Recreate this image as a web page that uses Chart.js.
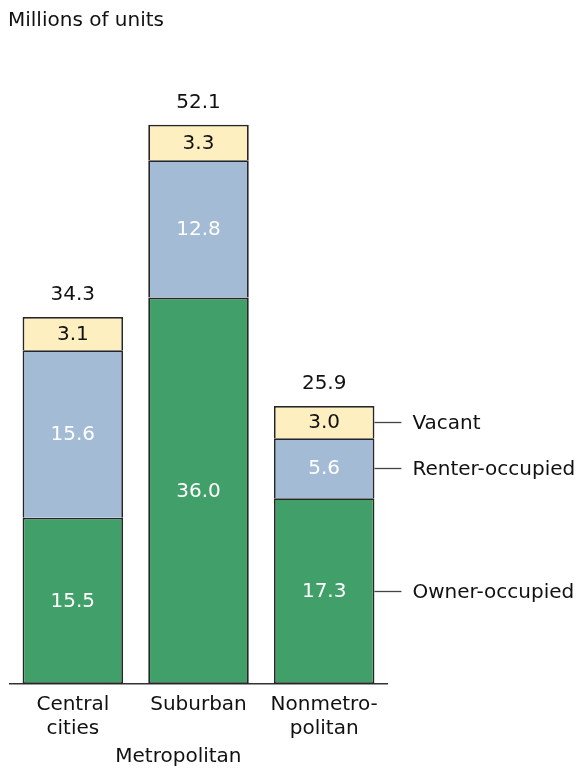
<!DOCTYPE html>
<html>
<head>
<meta charset="utf-8">
<script src="https://cdn.jsdelivr.net/npm/chart.js@4/dist/chart.umd.min.js"></script>
<style>
html,body{margin:0;padding:0;background:#fff;}
#wrap{width:582px;height:770px;position:relative;}
</style>
</head>
<body>
<div id="wrap"><canvas id="c" width="582" height="770"></canvas></div>
<script>
const categories = [["Central","cities"],["Suburban"],["Nonmetro-","politan"]];
const seriesNames = ["Owner-occupied","Renter-occupied","Vacant"];
const owner = [15.5, 36.0, 17.3];
const renter = [15.6, 12.8, 5.6];
const vacant = [3.1, 3.3, 3.0];
const totals = [34.3, 52.1, 25.9];
const unitLabel = "Millions of units";
const groupLabel = "Metropolitan";

const FONT = "'DejaVu Sans', sans-serif";
const FSIZE = 20;
const colors = ["#41a06a", "#a3bbd5", "#feefc1"];
const labelColors = ["#ffffff", "#ffffff", "#111111"];

const labelPlugin = {
  id: 'labels',
  afterDatasetsDraw(chart) {
    const ctx = chart.ctx;
    const xs = chart.scales.x;
    ctx.save();
    ctx.font = FSIZE + "px " + FONT;
    ctx.textAlign = "center";
    ctx.textBaseline = "middle";
    chart.data.datasets.forEach((ds, i) => {
      const meta = chart.getDatasetMeta(i);
      meta.data.forEach((el, j) => {
        ctx.fillStyle = labelColors[i];
        ctx.fillText(ds.data[j].toFixed(1), el.x, (el.y + el.base) / 2 + 1);
      });
    });
    const topMeta = chart.getDatasetMeta(chart.data.datasets.length - 1);
    topMeta.data.forEach((el, j) => {
      ctx.fillStyle = "#111";
      ctx.fillText(totals[j].toFixed(1), el.x, el.y - 22);
    });
    const last = categories.length - 1;
    chart.data.datasets.forEach((ds, i) => {
      const el = chart.getDatasetMeta(i).data[last];
      const x0 = el.x + el.width / 2;
      const y = Math.round((el.y + el.base) / 2) + 0.5;
      ctx.strokeStyle = "#444";
      ctx.lineWidth = 1.3;
      ctx.beginPath();
      ctx.moveTo(x0, y);
      ctx.lineTo(x0 + 27, y);
      ctx.stroke();
      ctx.fillStyle = "#111";
      ctx.textAlign = "left";
      ctx.fillText(seriesNames[i], x0 + 38, y + 1);
      ctx.textAlign = "center";
    });
    ctx.textAlign = "left";
    ctx.fillStyle = "#111";
    ctx.fillText(unitLabel, 8, 21);
    ctx.textAlign = "center";
    const p0 = xs.getPixelForValue(0), p1 = xs.getPixelForValue(1);
    ctx.fillText(groupLabel, p0 + 0.84 * (p1 - p0), 757);
    ctx.restore();
  }
};

new Chart(document.getElementById('c'), {
  type: 'bar',
  data: {
    labels: categories,
    datasets: [owner, renter, vacant].map((d, i) => ({
      label: seriesNames[i],
      data: d,
      backgroundColor: colors[i],
      borderColor: "#262626",
      borderWidth: 1.8,
      borderSkipped: i === 0 ? false : 'start',
      categoryPercentage: 1.0,
      barPercentage: 0.8
    }))
  },
  options: {
    responsive: false,
    animation: false,
    layout: { padding: { left: 10, right: 195, top: 40, bottom: 0 } },
    plugins: { legend: { display: false }, tooltip: { enabled: false } },
    scales: {
      x: {
        stacked: true,
        grid: { display: false },
        border: { display: true, color: "#333", width: 1.5 },
        ticks: { color: "#111", font: { family: FONT, size: FSIZE, lineHeight: 1.2 }, padding: 1, maxRotation: 0, autoSkip: false },
        afterFit(scale) { scale.height = 86; }
      },
      y: {
        stacked: true,
        display: false,
        min: 0,
        max: 60
      }
    }
  },
  plugins: [labelPlugin]
});
</script>
</body>
</html>
